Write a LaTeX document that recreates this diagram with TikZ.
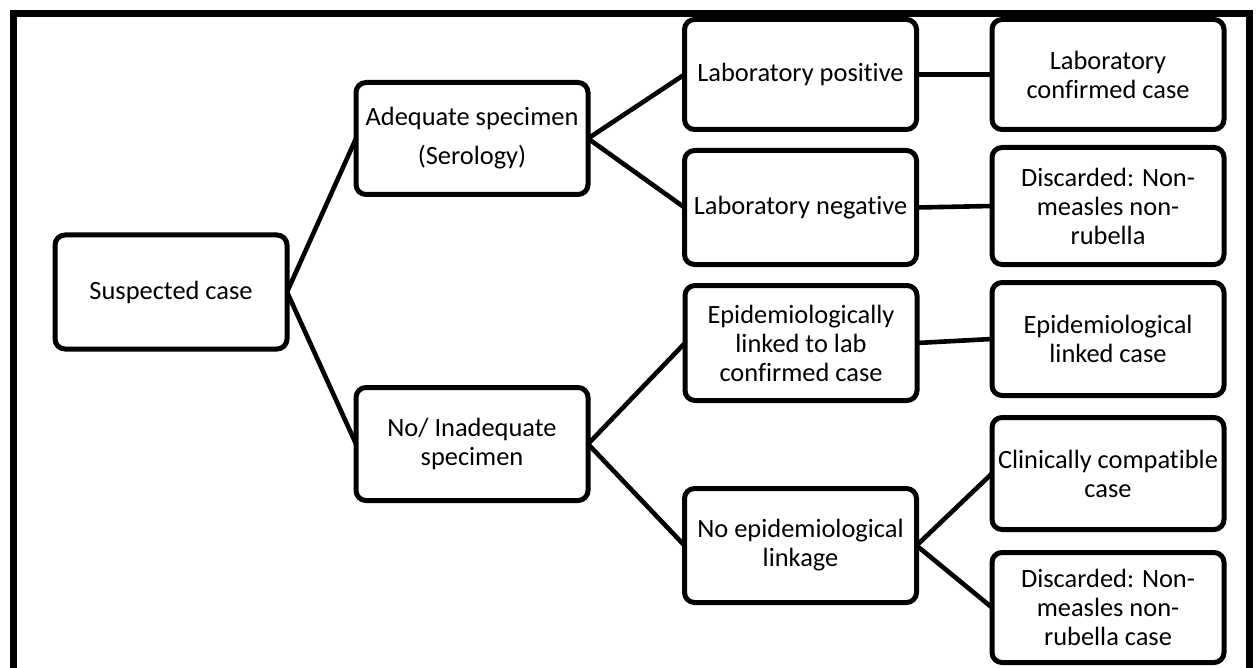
\documentclass[tikz,border=0pt]{standalone}
\usepackage{fontspec}
\setmainfont{Carlito}[Ligatures=NoCommon]

\newlength{\du}
\setlength{\du}{0.5pt}

\tikzset{
  casebox/.style={draw, line width=2.5pt, rounded corners=5pt, align=center,
    minimum width=232\du, minimum height=113\du, inner sep=2pt, outer sep=0pt,
    font=\fontsize{13.2}{14.5}\selectfont},
  link/.style={line width=2.3pt},
  frame/.style={line width=3.5pt}
}

\begin{document}
\begin{tikzpicture}[x=\du, y=\du, yscale=-1]
\useasboundingbox (0,0) rectangle (1257,668);
% outer frame, open at the bottom
\draw[frame] (13.5,668) -- (13.5,13.5) -- (1249.5,13.5) -- (1249.5,668);
% first column
\node[casebox, minimum height=114\du] (suspected) at (171,292) {Suspected case};
% second column
\node[casebox, minimum height=112\du] (adequate) at (472,138.5) {Adequate specimen\\[5pt](Serology)};
\node[casebox] (inadequate) at (472,444) {No/ Inadequate\\specimen};
% third column
\node[casebox, minimum height=110\du] (labpos) at (800.5,74.5) {Laboratory positive};
\node[casebox, minimum height=114\du] (labneg) at (800.5,207.5) {Laboratory negative};
\node[casebox, minimum height=115\du] (epilinked) at (801,343) {Epidemiologically\\linked to lab\\confirmed case};
\node[casebox, minimum height=114\du] (noepi) at (800.5,545.5) {No epidemiological\\linkage};
% fourth column
\node[casebox, minimum height=110\du] (labconf) at (1108,74.5) {Laboratory\\confirmed case};
\node[casebox, minimum height=117\du] (discarded) at (1108,206) {Discarded: Non-\\measles non-\\rubella};
\node[casebox] (epicase) at (1108,339) {Epidemiological\\linked case};
\node[casebox, minimum height=112\du] (clinical) at (1108,473.5) {Clinically compatible\\case};
\node[casebox, minimum height=110\du] (discardedcase) at (1108,607.5) {Discarded: Non-\\measles non-\\rubella case};
% connectors
\draw[link] (suspected.east) -- (adequate.west);
\draw[link] (suspected.east) -- (inadequate.west);
\draw[link] (adequate.east) -- (labpos.west);
\draw[link] (adequate.east) -- (labneg.west);
\draw[link] (inadequate.east) -- (epilinked.west);
\draw[link] (inadequate.east) -- (noepi.west);
\draw[link] (labpos.east) -- (labconf.west);
\draw[link] (labneg.east) -- (discarded.west);
\draw[link] (epilinked.east) -- (epicase.west);
\draw[link] (noepi.east) -- (clinical.west);
\draw[link] (noepi.east) -- (discardedcase.west);
\end{tikzpicture}
\end{document}
